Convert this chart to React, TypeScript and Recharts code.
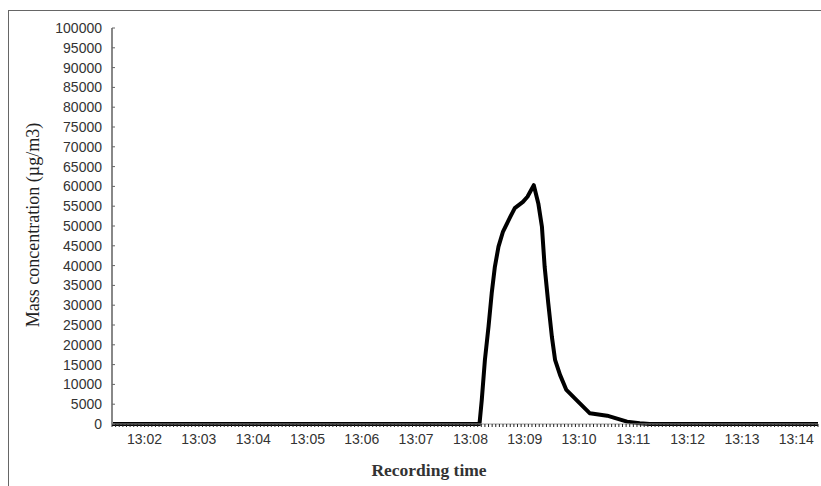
import { Line, LineChart, XAxis, YAxis } from "recharts";

// recording time in seconds after 13:00:00
const times = [
    84, 490, 492.5, 496, 500, 503.5, 507, 511, 516, 524, 529, 538, 543, 550,
    555, 559, 562, 566, 570, 573.5, 579, 586, 597, 612, 631, 653, 667, 678, 864,
];
const concentration = [
    0, 0, 6000, 16200, 24600, 33000, 39700, 44800, 48600, 52300, 54500, 56100, 57400, 60300,
    55700, 49800, 39700, 30500, 22000, 16200, 12400, 8600, 6100, 2700, 2100, 600, 170, 0, 0,
];

const minuteTicks = [120, 180, 240, 300, 360, 420, 480, 540, 600, 660, 720, 780, 840];
const minuteLabels = ['13:02', '13:03', '13:04', '13:05', '13:06', '13:07', '13:08', '13:09', '13:10', '13:11', '13:12', '13:13', '13:14'];

const yTicks = [
    0, 5000, 10000, 15000, 20000, 25000, 30000, 35000, 40000, 45000, 50000,
    55000, 60000, 65000, 70000, 75000, 80000, 85000, 90000, 95000, 100000,
];

// one small tick mark per 4 s sample
const sampleTicks = Array.from({ length: (864 - 84) / 4 + 1 }, (_, i) => 84 + i * 4);

const data = times.map((t, i) => ({ t, value: concentration[i] }));

const formatTime = (t: number) => {
    const idx = minuteTicks.indexOf(t);
    return idx >= 0 ? minuteLabels[idx] : '';
};

const YTick = (props: any) => {
    const { x, y, payload } = props;
    return (
        <g>
            <line x1={x + 10} x2={x + 13} y1={y} y2={y} stroke="#666" strokeWidth={1} />
            <text x={x} y={y} dy="0.355em" textAnchor="end" fill="#333" fontSize={14}
                fontFamily='"Liberation Sans", Arial, sans-serif'>
                {payload.value}
            </text>
        </g>
    );
};

const App = () => {
    return (
        <div style={{ position: 'absolute', left: 0, top: 0, width: 821, height: 486, background: '#fff', overflow: 'hidden' }}>
            <div style={{ position: 'absolute', left: 8, top: 10, width: 813, height: 0, borderTop: '1.5px solid #666' }} />
            <div style={{ position: 'absolute', left: 8, top: 10, width: 0, height: 476, borderLeft: '1.5px solid #666' }} />
            <LineChart width={821} height={486} data={data} margin={{ top: 28, right: 3, bottom: 32, left: 12 }}>
                <XAxis type="number" dataKey="t" domain={[84, 864]} ticks={sampleTicks} interval={0}
                    tickFormatter={formatTime} height={30} stroke="#999" tickSize={3} tickMargin={7}
                    tickLine={{ stroke: '#222' }}
                    tick={{ fill: '#333', fontSize: 14, fontFamily: '"Liberation Sans", Arial, sans-serif' }} />
                <YAxis width={100} domain={[0, 100000]} ticks={yTicks} interval={0} tickSize={0} tickMargin={10}
                    tickLine={false} tick={<YTick />} stroke="#888" strokeWidth={2} />
                <Line type="linear" dataKey="value" stroke="#000" strokeWidth={4} dot={false}
                    strokeLinejoin="round" isAnimationActive={false} />
            </LineChart>
            <div style={{
                position: 'absolute', left: 33, top: 225, transform: 'translate(-50%, -50%) rotate(-90deg)',
                whiteSpace: 'nowrap', fontFamily: '"Liberation Serif", "Times New Roman", serif', fontSize: 18, color: '#222',
            }}>
                Mass concentration (µg/m3)
            </div>
            <div style={{
                position: 'absolute', left: 429, top: 470, transform: 'translate(-50%, -50%)',
                whiteSpace: 'nowrap', fontFamily: '"Liberation Serif", "Times New Roman", serif', fontSize: 17.5,
                fontWeight: 'bold', color: '#333',
            }}>
                Recording time
            </div>
        </div>
    );
};

export default App;
